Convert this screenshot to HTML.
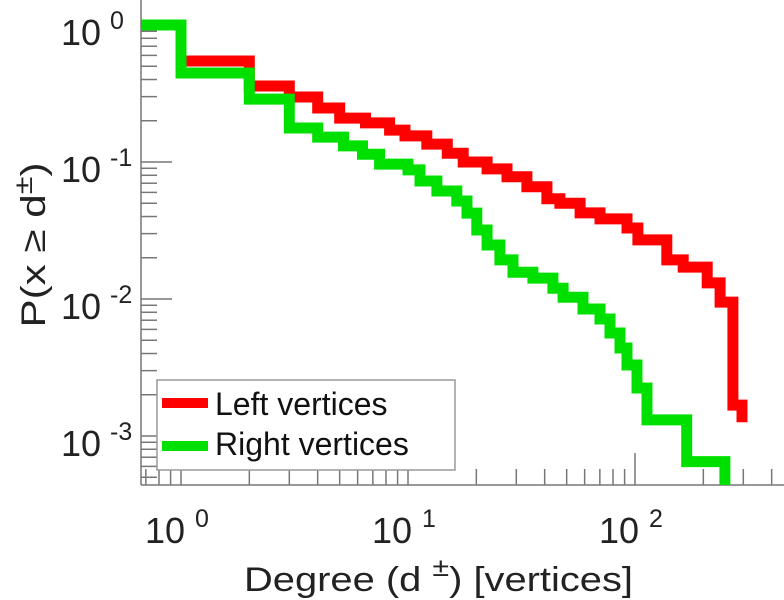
<!DOCTYPE html>
<html><head><meta charset="utf-8"><style>
html,body{margin:0;padding:0;background:#fff;}
svg{display:block;font-family:"Liberation Sans",Arial,sans-serif;}
</style></head><body>
<svg id="chart" width="784" height="600" viewBox="0 0 784 600" xmlns="http://www.w3.org/2000/svg">
<defs><clipPath id="plotclip"><rect x="141" y="0" width="643" height="485"/></clipPath></defs>
<g id="axes"></g>
<g id="series" clip-path="url(#plotclip)"></g>
<g id="labels"></g>
<text transform="translate(45,245) rotate(-90)" text-anchor="middle" font-size="34" fill="#222" textLength="165" lengthAdjust="spacingAndGlyphs">P(x ≥ d<tspan font-size="26" dy="-13">±</tspan><tspan dy="13">)</tspan></text>
<text x="244" y="591" font-size="34" fill="#222" textLength="389" lengthAdjust="spacingAndGlyphs">Degree (d  <tspan font-size="26" dy="-15">±</tspan><tspan dy="15">) [vertices]</tspan></text>
<g>
<rect x="157" y="380" width="298" height="90" fill="#fff" stroke="#999" stroke-width="1.5"/>
<line x1="162" y1="403" x2="208" y2="403" stroke="#ff0000" stroke-width="10"/>
<text x="215" y="415" font-size="32" fill="#111">Left vertices</text>
<line x1="162" y1="446" x2="208" y2="446" stroke="#00e000" stroke-width="10"/>
<text x="215" y="455" font-size="32" fill="#111">Right vertices</text>
</g>
</svg>
<script>
const xTickExps = [0, 1, 2];
const yTickExps = [0, -1, -2, -3];
const leftX = [0.667, 1, 2, 3, 4, 5, 6.5, 8.3, 9.7, 12.1, 14.9, 17.5, 22.3, 27.3, 33.4, 40.9, 46.7, 57.3, 70.1, 92.2, 103, 138, 163, 208, 237, 270, 296];
const leftY = [1, 0.546, 0.359, 0.298, 0.248, 0.209, 0.193, 0.171, 0.155, 0.135, 0.116, 0.100, 0.089, 0.078, 0.066, 0.054, 0.050, 0.0425, 0.0384, 0.033, 0.027, 0.0193, 0.0171, 0.0131, 0.0095, 0.00168, 0.00126];
const rightX = [0.667, 1, 2, 3, 4, 5.2, 6.3, 7.5, 10, 11.3, 13.4, 16.4, 18.2, 20.1, 22.3, 25.4, 29, 35.5, 43.5, 48.2, 59, 70.1, 77.6, 85.9, 92.2, 102, 113, 169, 249];
const rightY = [1, 0.446, 0.288, 0.177, 0.152, 0.131, 0.114, 0.0966, 0.0875, 0.0727, 0.0614, 0.0519, 0.0424, 0.0319, 0.0248, 0.0193, 0.0157, 0.0142, 0.0120, 0.0103, 0.00845, 0.00714, 0.00565, 0.00439, 0.0033, 0.00224, 0.00131, 0.00065, 0.0001];

const NS = 'http://www.w3.org/2000/svg';
const X = v => 181 + 227 * Math.log10(v);
const Y = v => 25 - 137 * Math.log10(v);
const AX = 141, AY = 485;
function mk(tag, attrs, parent) {
  const e = document.createElementNS(NS, tag);
  for (const k in attrs) e.setAttribute(k, attrs[k]);
  parent.appendChild(e);
  return e;
}
const axes = document.getElementById('axes');
const yl = mk('line', {x1: AX, y1: 0, x2: AX, y2: AY, stroke: '#777', 'stroke-width': 1.5}, axes);


const xl = mk('line', {x1: AX, y1: AY, x2: 784, y2: AY, stroke: '#777', 'stroke-width': 1.5}, axes);


for (let e = -1; e <= 2; e++) {
  for (let m = 1; m <= 9; m++) {
    const v = m * Math.pow(10, e);
    const px = X(v);
    if (px < AX || px > 784) continue;
    const len = m === 1 ? 32 : 16;
    const t = mk('line', {x1: px, y1: AY, x2: px, y2: AY - len, stroke: '#777', 'stroke-width': 1.5}, axes);
    
    
  }
}
for (let e = -4; e <= 0; e++) {
  for (let m = 1; m <= 9; m++) {
    const v = m * Math.pow(10, e);
    const py = Y(v);
    if (py < 0 || py > AY) continue;
    const len = m === 1 ? 31 : 16;
    const t = mk('line', {x1: AX, y1: py, x2: AX + len, y2: py, stroke: '#777', 'stroke-width': 1.5}, axes);
    
    
  }
}
const labels = document.getElementById('labels');
xTickExps.forEach(e => {
  const px = X(Math.pow(10, e));
  const t = mk('text', {x: px + 4, y: 543, 'text-anchor': 'end', 'font-size': 36, fill: '#222'}, labels);
  t.textContent = '10';
  
  
  const s = mk('text', {x: px + 14, y: 527, 'font-size': 25, fill: '#222'}, labels);
  s.textContent = String(e);
  
  
});
yTickExps.forEach(e => {
  const py = Y(Math.pow(10, e));
  const t = mk('text', {x: 101, y: py + 20, 'text-anchor': 'end', 'font-size': 36, fill: '#222'}, labels);
  t.textContent = '10';
  
  
  const s = mk('text', {x: 110, y: py + 4, 'font-size': 25, fill: '#222'}, labels);
  s.textContent = String(e);
  
  
});
function stepPath(xs, ys) {
  let d = 'M' + X(xs[0]).toFixed(1) + ',' + Y(ys[0]).toFixed(1);
  for (let i = 1; i < xs.length; i++) {
    d += ' H' + X(xs[i]).toFixed(1) + ' V' + Y(ys[i]).toFixed(1);
  }
  return d;
}
const series = document.getElementById('series');
const pr = mk('path', {d: stepPath(leftX, leftY), fill: 'none', stroke: '#ff0000', 'stroke-width': 11, 'stroke-linejoin': 'miter'}, series);


const pg = mk('path', {d: stepPath(rightX, rightY), fill: 'none', stroke: '#00e000', 'stroke-width': 11, 'stroke-linejoin': 'miter'}, series);


</script>
</body></html>
